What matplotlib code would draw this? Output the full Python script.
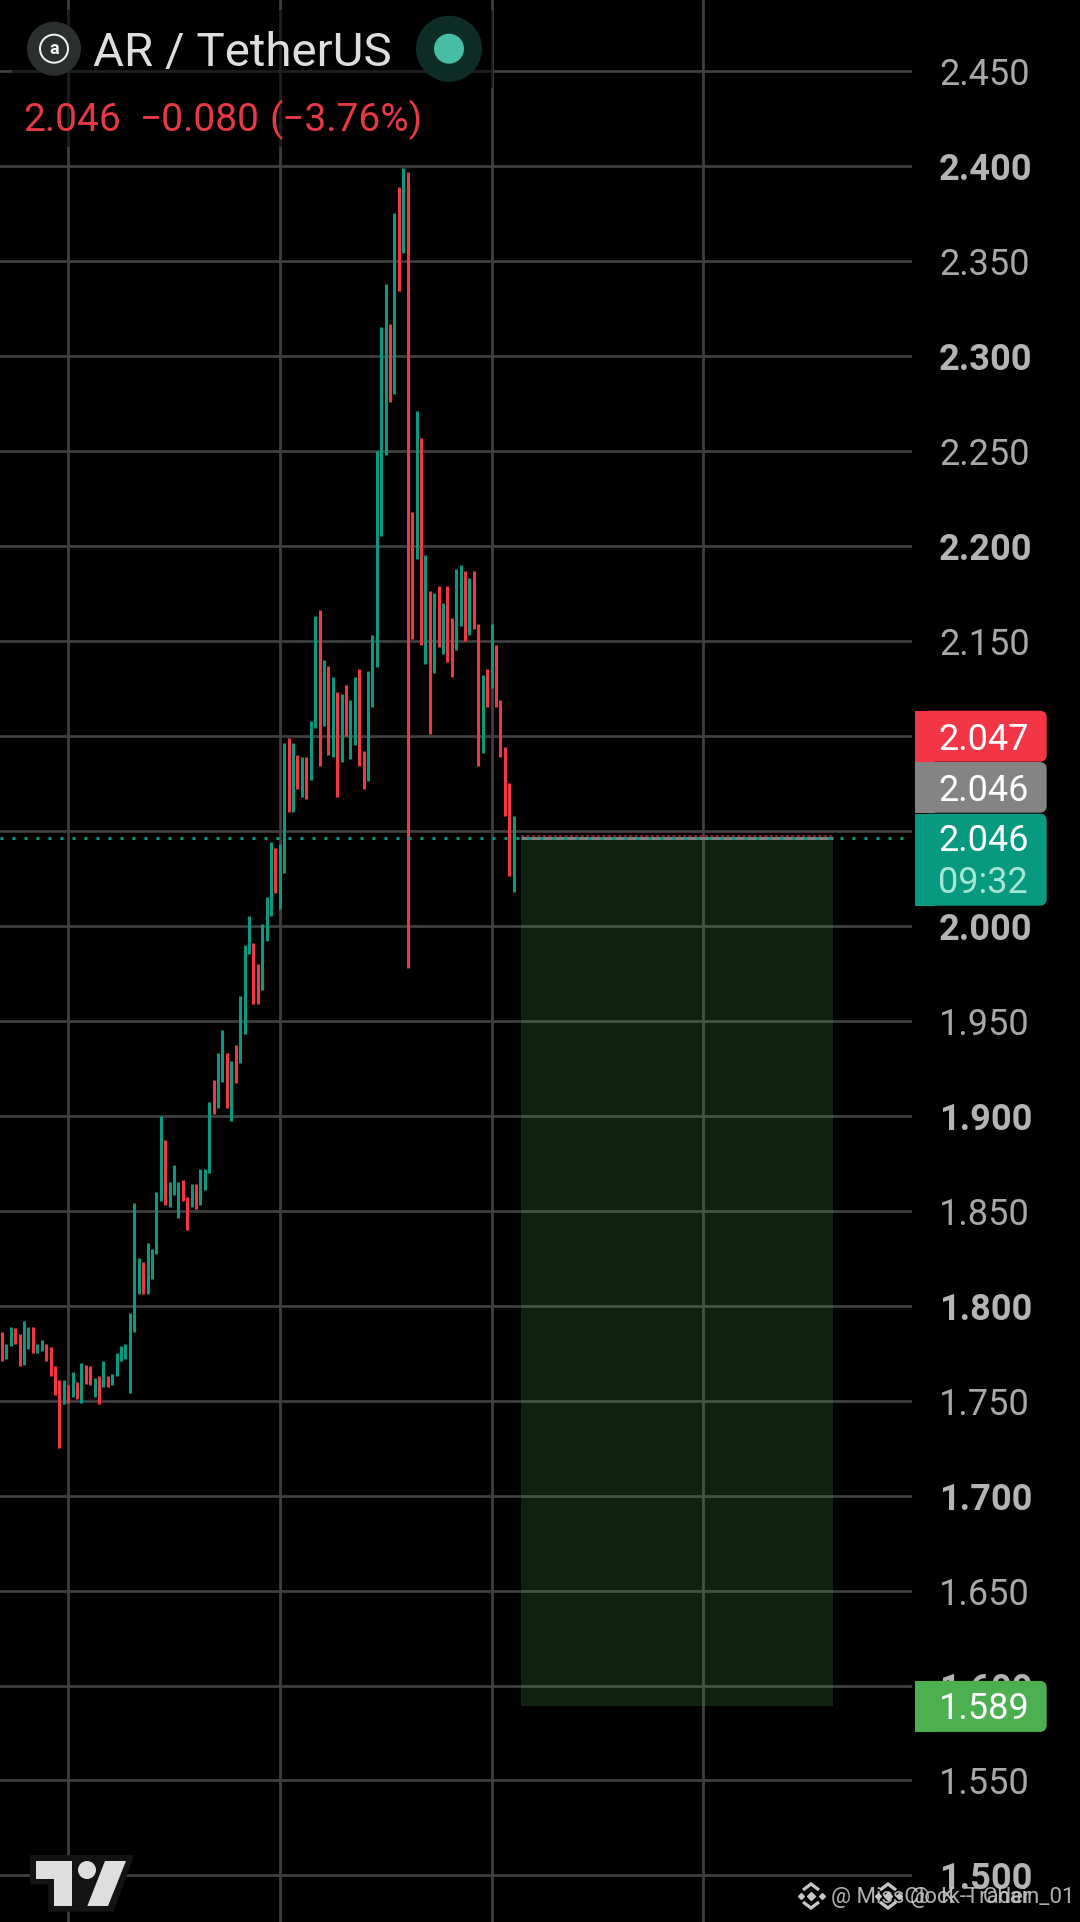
import matplotlib
matplotlib.use("Agg")
import matplotlib.pyplot as plt
from matplotlib.patches import Circle, Rectangle, FancyBboxPatch, Polygon

plt.rcParams['font.family'] = ['Roboto', 'DejaVu Sans']

# ---------- data ----------
bar_dir = (
    "d u u d d u u d u u d d d d u d u d u d d u d u d "   # 0-24
    "u u u u u u u d u u u "                               # 25-35
    "u d u u u d d u d u u u "                             # 36-47
    "d u u d u d u u u d d u u "                           # 48-60
    "u d u "                                               # 61-63
    "u d u d u d u u d u d u d u d u u d d u u "           # 64-84
    "u u u d u d u d d u d "                               # 85-95
    "u d u d u d d u u d u d "                             # 96-107
    "d u d u d d d d u"                                    # 108-116
).split()
bar_high = [
    1.786, 1.780, 1.789, 1.788, 1.785, 1.792, 1.789, 1.789, 1.780, 1.782,
    1.780, 1.778, 1.768, 1.761, 1.761, 1.758, 1.765, 1.760, 1.770, 1.769,
    1.768, 1.762, 1.763, 1.771, 1.763, 1.764, 1.775, 1.779, 1.780, 1.796,
    1.854, 1.825, 1.823, 1.833, 1.830, 1.860,
    1.900, 1.887, 1.865, 1.874, 1.865, 1.866, 1.857, 1.864, 1.864, 1.872, 1.872, 1.907,
    1.919, 1.933, 1.945, 1.933, 1.929, 1.937, 1.963, 1.990, 2.005, 1.991, 1.980, 2.001, 2.015,
    2.044, 2.041, 2.043,
    2.096, 2.099, 2.096, 2.090, 2.089, 2.089, 2.108, 2.163, 2.166, 2.140, 2.137,
    2.131, 2.123, 2.122, 2.127, 2.119, 2.131, 2.135, 2.092, 2.134, 2.153,
    2.250, 2.315, 2.338, 2.317, 2.375, 2.389, 2.399, 2.397, 2.218, 2.271, 2.257,
    2.195, 2.176, 2.175, 2.179, 2.170, 2.179, 2.162, 2.188, 2.190, 2.187, 2.183, 2.187,
    2.159, 2.132, 2.135, 2.159, 2.148, 2.119, 2.094, 2.075, 2.058,
]
bar_low = [
    1.771, 1.772, 1.779, 1.780, 1.768, 1.769, 1.777, 1.775, 1.775, 1.776,
    1.771, 1.763, 1.753, 1.725, 1.748, 1.749, 1.752, 1.751, 1.749, 1.759,
    1.758, 1.752, 1.748, 1.757, 1.757, 1.758, 1.763, 1.771, 1.772, 1.754,
    1.786, 1.806, 1.806, 1.806, 1.814, 1.827,
    1.855, 1.853, 1.852, 1.858, 1.846, 1.855, 1.840, 1.852, 1.851, 1.853, 1.861, 1.870,
    1.901, 1.904, 1.918, 1.904, 1.897, 1.917, 1.928, 1.943, 1.985, 1.959, 1.959, 1.966, 1.992,
    2.005, 2.017, 2.009,
    2.028, 2.060, 2.060, 2.072, 2.068, 2.067, 2.077, 2.104, 2.084, 2.105, 2.090,
    2.089, 2.068, 2.086, 2.100, 2.088, 2.095, 2.084, 2.072, 2.076, 2.115,
    2.136, 2.205, 2.248, 2.276, 2.280, 2.334, 2.354, 1.978, 2.151, 2.193, 2.148,
    2.138, 2.101, 2.133, 2.147, 2.143, 2.139, 2.131, 2.145, 2.158, 2.150, 2.153, 2.156,
    2.084, 2.091, 2.115, 2.125, 2.115, 2.089, 2.058, 2.026, 2.018,
]
price_ticks = [1.50, 1.55, 1.60, 1.65, 1.70, 1.75, 1.80, 1.85, 1.90, 1.95,
               2.00, 2.05, 2.10, 2.15, 2.20, 2.25, 2.30, 2.35, 2.40, 2.45]
time_ticks = [15, 63, 111, 159]
last_price = 2.046
bid_price = 2.047
target_price = 1.589
target_start = 117.8
target_end = 188.4
title = "AR / TetherUS"
quote_parts = ["2.046", "\u22120.080", "(\u22123.76%)"]
countdown = "09:32"

assert len(bar_dir) == len(bar_high) == len(bar_low)

# ---------- layout ----------
W, H = 1080, 1922
PX_PER_PRICE = 1899.4
Y_2400 = 166.0
X0, DX = 2.0, 4.41
CHART_W = 912
GREEN, RED = "#089981", "#f23645"
px = 72 / 100  # points per pixel

fig = plt.figure(figsize=(W / 100, H / 100), dpi=100, facecolor="black")
ax = fig.add_axes([0, 0, CHART_W / W, 1], facecolor="black")
ax.set_xlim(-X0 / DX, (CHART_W - X0) / DX)
ax.set_ylim(2.4 - (H - Y_2400) / PX_PER_PRICE, 2.4 + Y_2400 / PX_PER_PRICE)
for s in ax.spines.values():
    s.set_visible(False)

ax.set_axisbelow(True)
ax.set_xticks(time_ticks)
ax.set_xticklabels([])
ax.set_yticks(price_ticks)
ax.yaxis.tick_right()
ax.set_yticklabels([f"{p:.3f}" for p in price_ticks])
ax.tick_params(axis="both", length=0)
ax.tick_params(axis="y", pad=27 * px, labelsize=26)
for p, lab in zip(price_ticks, ax.get_yticklabels()):
    bold = abs(p * 10 - round(p * 10)) < 1e-6
    lab.set_fontweight("bold" if bold else "normal")
    lab.set_color("#b4b4b4" if bold else "#a8a8a8")
ax.grid(True, color="#404040", lw=2.7 * px)

# target zone
ax.add_patch(Rectangle((target_start, target_price), target_end - target_start,
                       last_price - target_price, facecolor="#4caf50", alpha=0.2,
                       edgecolor="none", zorder=1.5))
ax.plot([target_start, target_end], [last_price, last_price], color="#7f7f7f",
        lw=3 * px, solid_capstyle="butt", zorder=1.8)
ax.plot([target_start, target_end], [bid_price + 0.0003] * 2, color="#7e2a30",
        lw=1.8 * px, ls=(0, (2, 1)), zorder=1.8)

# bars
xs = list(range(len(bar_high)))
cols = [GREEN if d == "u" else RED for d in bar_dir]
ax.vlines(xs, bar_low, bar_high, colors=cols, lw=3 * px, zorder=2.2)

# last price dotted line
ax.plot(ax.get_xlim(), [last_price, last_price], color=GREEN, lw=3 * px,
        ls=(0, (1, 3)), zorder=2.3)

# ---------- overlay in pixel space ----------
ov = fig.add_axes([0, 0, 1, 1], zorder=10)
ov.set_xlim(0, W)
ov.set_ylim(H, 0)
ov.axis("off")
ov.patch.set_alpha(0)


def price_y(p):
    return Y_2400 + (2.4 - p) * PX_PER_PRICE


def label_box(y0, y1, color, z=3):
    x0, x1 = 915, 1046.7
    ov.add_patch(FancyBboxPatch((x0 + 8, y0 + 0.5), x1 - x0 - 8 - 0.5, y1 - y0 - 1,
                                boxstyle="round,pad=0.5,rounding_size=7",
                                fc=color, ec="none", zorder=z))
    ov.add_patch(Rectangle((x0, y0), 20, y1 - y0, fc=color, ec="none", zorder=z))


label_box(710.7, 761.7, "#f23645")
label_box(762, 812.7, "#848484")
label_box(813.7, 905.7, "#089981")
ty = price_y(target_price)
label_box(ty - 25.5, ty + 25.5, "#4caf50")

tkw = dict(fontsize=26, color="white", va="baseline", ha="left", zorder=4)
ov.text(938.5, 750, f"{bid_price:.3f}", **tkw)
ov.text(938.5, 800.7, f"{last_price:.3f}", **tkw)
ov.text(938.5, 851, f"{last_price:.3f}", **tkw)
ov.text(938.5, 893.3, countdown, **{**tkw, "color": "#a3e6d3"})
ov.text(938.5, ty + 12.6, f"{target_price:.3f}", **tkw)

# legend backing
ov.add_patch(Rectangle((12, 10), 481, 78, fc="black", alpha=0.5, ec="none", zorder=1))
ov.add_patch(Rectangle((12, 88), 413, 59, fc="black", alpha=0.5, ec="none", zorder=1))

# symbol icon
ov.add_patch(Circle((54, 48.7), 27, fc="#2b302f", ec="none", zorder=2))
ov.add_patch(Circle((54, 48.7), 14, fc="none", ec="#f0f0f0", lw=2 * px, zorder=3))
ov.text(54, 49, "a", fontsize=13, fontweight="bold", color="#f0f0f0",
        ha="center", va="center", zorder=4)
ov.text(93, 66, title, fontsize=34.2, color="#dedede", ha="left", va="baseline", zorder=3)

# status dot
ov.add_patch(Circle((449, 48.7), 33, fc="#0e2d27", ec="none", zorder=2))
ov.add_patch(Circle((449, 48.7), 15, fc="#48bda6", ec="none", zorder=3))

# quote line
for xpos, s in zip([23, 140, 269], quote_parts):
    ov.text(xpos, 130.7, s, fontsize=28, color="#e63946", ha="left", va="baseline", zorder=3)

# TradingView logo
ov.add_patch(Polygon([(30, 1855), (134.3, 1855), (113.3, 1911.7), (48.3, 1911.7),
                      (48.3, 1884.3), (30, 1884.3)], fc="#141312", ec="none", zorder=5))
ov.add_patch(Polygon([(36, 1861), (72.3, 1861), (72.3, 1906), (54, 1906), (54, 1879), (36, 1879)],
                     fc="#dedede", ec="none", zorder=6))
ov.add_patch(Circle((87, 1870), 9, fc="#dedede", ec="none", zorder=6))
ov.add_patch(Polygon([(105, 1861), (126, 1861), (108, 1906), (87.3, 1906)],
                     fc="#dedede", ec="none", zorder=6))


# watermark
def binance(cx, cy):
    kw = dict(color="#c8c8c8", zorder=7, ls="none", marker="D")
    ov.plot([cx], [cy], ms=4.0, **kw)
    ov.plot([cx - 10.5, cx + 10.5], [cy, cy], ms=3.0, **kw)
    for sgn in (-1, 1):
        ov.plot([cx - 8, cx, cx + 8], [cy + sgn * 6, cy + sgn * 12, cy + sgn * 6],
                color="#c8c8c8", lw=3.2 * px, zorder=7, solid_joinstyle="miter",
                solid_capstyle="butt")


binance(811, 1896)
binance(888, 1896)
wm = dict(fontsize=16, color="#c4c4c4", ha="left", va="baseline", zorder=7, alpha=0.9)
ov.text(831, 1902.5, "@ MissClock-Trader", **wm)
ov.text(910, 1902.5, "@  K  -  Chain_01", **wm)

fig.savefig("out.png", dpi=100, facecolor="black")
